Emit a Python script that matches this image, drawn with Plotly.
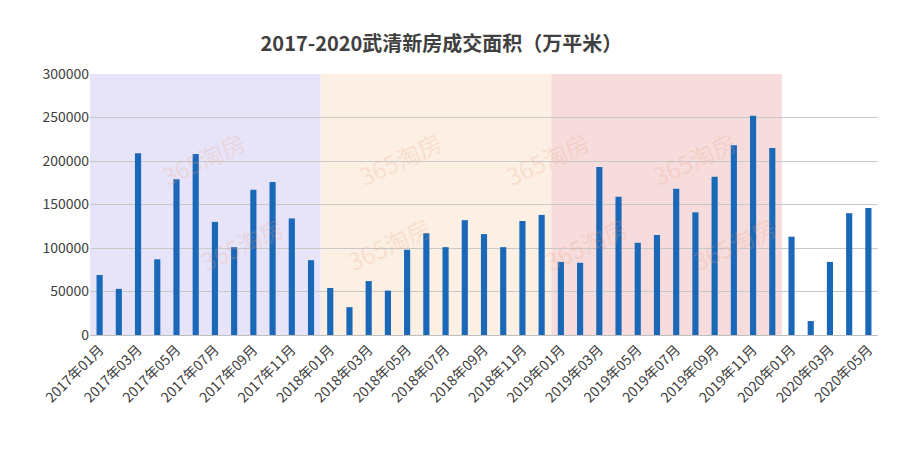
import plotly.graph_objects as go

months = [f"{y}年{m:02d}月" for y in range(2017, 2021) for m in range(1, 13)][:41]
values = [69000, 53000, 209000, 87000, 179000, 208000, 130000, 101000, 167000, 176000, 134000, 86000,
          54000, 32000, 62000, 51000, 98000, 117000, 101000, 132000, 116000, 101000, 131000, 138000,
          84000, 83000, 193000, 159000, 106000, 115000, 168000, 141000, 182000, 218000, 252000, 215000,
          113000, 16000, 84000, 140000, 146000]
year_colors = ["#e7e4f9", "#fcefe4", "#f6dcdc"]

x = list(range(len(months)))
fig = go.Figure(go.Bar(x=x, y=values, marker=dict(color="#1a68b8", line=dict(width=0)), width=0.32))

shapes = []
for i, c in enumerate(year_colors):
    shapes.append(dict(type="rect", xref="x", yref="paper", x0=i*12-0.5, x1=i*12+11.5, y0=0, y1=1,
                       fillcolor=c, line=dict(width=0), layer="below"))
annotations = []
for px in [0.08, 0.33, 0.58, 0.83]:
    for py in [0.82, 0.35]:
        annotations.append(dict(text="365淘房", xref="paper", yref="paper", x=px + (0.05 if py < 0.5 else 0), y=py,
                                showarrow=False, textangle=-25, font=dict(size=24, color="rgba(240,160,120,0.22)",
                                family="Noto Sans CJK SC")))

fig.update_layout(
    width=903, height=452, margin=dict(l=82, r=33, t=66, b=125),
    paper_bgcolor="white", plot_bgcolor="white", showlegend=False,
    title=dict(text="<b>2017-2020武清新房成交面积（万平米）</b>", x=0.48, y=0.92, xanchor="center", yanchor="middle",
               font=dict(size=20, color="#404040", family="Noto Sans CJK SC")),
    shapes=shapes, annotations=annotations,
    xaxis=dict(tickvals=x[::2], ticktext=months[::2], tickangle=-45, range=[-0.5, 40.5], automargin=False,
               tickfont=dict(size=14, color="#404040", family="Noto Sans CJK SC"),
               showgrid=False, showline=True, linecolor="#bfbfbf"),
    yaxis=dict(range=[0, 300000], dtick=50000, tickformat="d", gridcolor="#c8c8c8", automargin=False,
               tickfont=dict(size=14, color="#404040", family="Noto Sans CJK SC"), zeroline=False),
)
fig.write_html("out.html")
